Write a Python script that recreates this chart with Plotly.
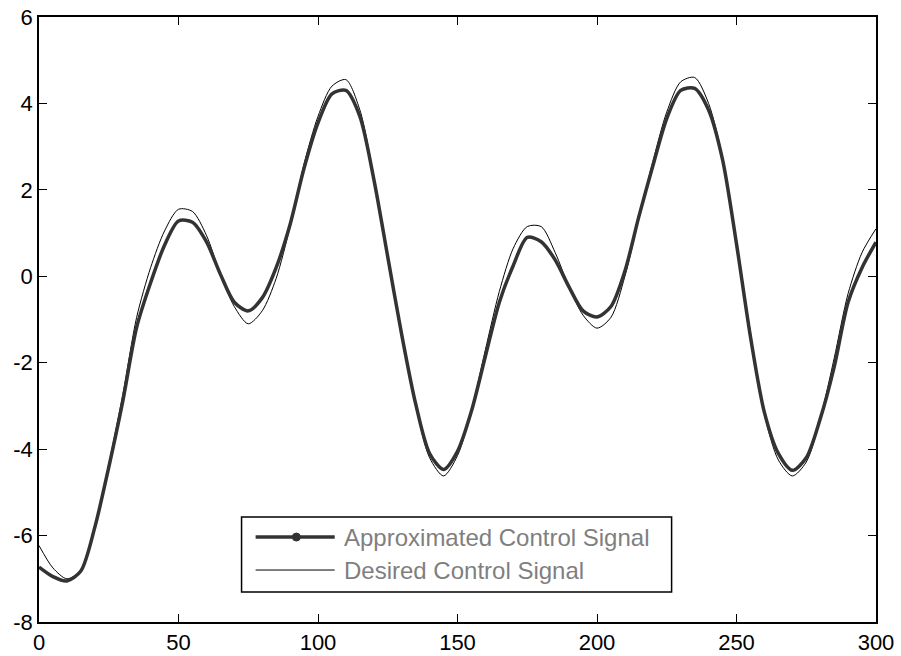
import plotly.graph_objects as go

# sample positions (time step)
t = list(range(0, 301, 5))

# values
approx_signal = [
    -6.73, -6.95, -7.05, -6.82, -5.81, -4.42, -2.90, -1.18, -0.15, 0.72,
    1.28, 1.25, 0.80, 0.05, -0.60, -0.80, -0.50, 0.20, 1.20, 2.50,
    3.55, 4.22, 4.30, 3.70, 2.25, 0.45, -1.35, -2.95, -4.10, -4.47,
    -4.05, -3.12, -1.85, -0.60, 0.25, 0.90, 0.80, 0.38, -0.25, -0.80,
    -0.94, -0.70, 0.12, 1.38, 2.55, 3.65, 4.30, 4.35, 3.85, 2.70,
    0.75, -1.40, -3.15, -4.10, -4.49, -4.20, -3.30, -2.10, -0.60, 0.20,
    0.79,
]
desired_signal = [
    -6.23, -6.75, -7.00, -6.80, -5.78, -4.35, -2.75, -0.95, 0.20, 1.05,
    1.55, 1.50, 0.95, 0.05, -0.70, -1.10, -0.80, -0.05, 1.15, 2.60,
    3.70, 4.40, 4.55, 3.85, 2.30, 0.50, -1.40, -3.00, -4.20, -4.62,
    -4.15, -3.10, -1.70, -0.35, 0.65, 1.15, 1.15, 0.55, -0.25, -0.90,
    -1.20, -0.95, 0.00, 1.35, 2.65, 3.80, 4.50, 4.60, 4.00, 2.75,
    0.80, -1.30, -3.20, -4.25, -4.62, -4.30, -3.30, -1.90, -0.40, 0.55,
    1.10,
]

x_ticks = [0, 50, 100, 150, 200, 250, 300]
y_ticks = [-8, -6, -4, -2, 0, 2, 4, 6]
y_tick_text = ["-8", "-6", "-4", "-2", "0", "2", "4", "6"]

legend_labels = ["Approximated Control Signal", "Desired Control Signal"]

fig = go.Figure()
fig.add_trace(go.Scatter(x=t, y=desired_signal, mode="lines", name=legend_labels[1],
                         line=dict(color="black", width=1, shape="spline", smoothing=0.8),
                         showlegend=False))
fig.add_trace(go.Scatter(x=t, y=approx_signal, mode="lines", name=legend_labels[0],
                         line=dict(color="#333333", width=3.5, shape="spline", smoothing=0.8),
                         showlegend=False))

axis_style = dict(showgrid=False, zeroline=False, showline=True, linecolor="black",
                  linewidth=1.5, mirror="allticks", ticks="inside", ticklen=8,
                  tickcolor="black", tickwidth=1, automargin=False,
                  ticklabeloverflow="allow",
                  tickfont=dict(family="Liberation Sans, Arial", size=22, color="black"))

fig.update_xaxes(range=[0, 300], tickvals=x_ticks, **axis_style)
fig.update_yaxes(range=[-8, 6], tickvals=y_ticks, ticktext=y_tick_text, **axis_style)

# hand-built legend box, matching the long sample lines of the original
shapes = [
    dict(type="rect", xref="paper", yref="paper", x0=0.242, x1=0.7558, y0=0.0495, y1=0.1734,
         line=dict(color="black", width=1.5), fillcolor="white", layer="above"),
    dict(type="line", xref="paper", yref="paper", x0=0.2588, x1=0.3533, y0=0.1404, y1=0.1404,
         line=dict(color="#333333", width=3.5), layer="above"),
    dict(type="circle", xref="paper", yref="paper", xsizemode="pixel", ysizemode="pixel",
         xanchor=0.3075, yanchor=0.1404, x0=-4, x1=4, y0=-4, y1=4,
         fillcolor="#333333", line=dict(color="#333333", width=1), layer="above"),
    dict(type="line", xref="paper", yref="paper", x0=0.2588, x1=0.3533, y0=0.0859, y1=0.0859,
         line=dict(color="black", width=1), layer="above"),
]

annotations = [
    dict(xref="paper", yref="paper", x=0.3625, y=0.1404, text=legend_labels[0],
         showarrow=False, xanchor="left", yanchor="middle",
         font=dict(family="Liberation Sans, Arial", size=24, color="#7f7f7f")),
    dict(xref="paper", yref="paper", x=0.3625, y=0.0859, text=legend_labels[1],
         showarrow=False, xanchor="left", yanchor="middle",
         font=dict(family="Liberation Sans, Arial", size=24, color="#7f7f7f")),
]

fig.update_layout(
    width=901, height=656,
    margin=dict(l=39, r=25, t=17, b=34),
    plot_bgcolor="white", paper_bgcolor="white",
    shapes=shapes, annotations=annotations,
    showlegend=False,
)

# drop the default 8px body margin so the figure sits at the page corner
fig.write_html("out.html", config={"displayModeBar": False},
               post_script="document.body.style.margin = '0';")
